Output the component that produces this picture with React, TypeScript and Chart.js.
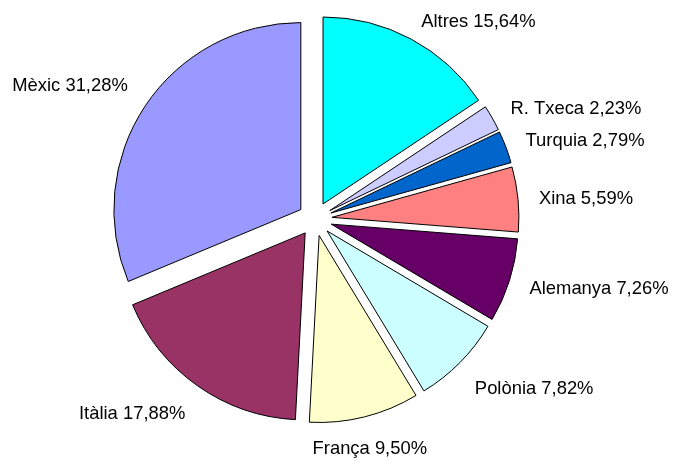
import { useEffect, useRef } from "react";
import { Chart, registerables } from "chart.js";

Chart.register(...registerables);

const categories = ["Altres", "R. Txeca", "Turquia", "Xina", "Alemanya", "Polònia", "França", "Itàlia", "Mèxic"];
const shares = [15.64, 2.23, 2.79, 5.59, 7.26, 7.82, 9.5, 17.88, 31.28];
const sliceColors = ["#00FFFF", "#CCCCFF", "#0066CC", "#FF8080", "#660066", "#CCFFFF", "#FFFFCC", "#993366", "#9999FF"];

const EXPLODE = 17;
const LABEL_GAP = 21;
const FONT_SIZE = 18.4;
const FONT = `${FONT_SIZE}px "Liberation Sans", Arial, sans-serif`;

const fmt = (v: number) => v.toFixed(2).replace(".", ",") + "%";

const explodePlugin = {
  id: "explodeSlices",
  afterDatasetUpdate(_chart: any, args: any) {
    for (const arc of args.meta.data) {
      const mid = (arc.startAngle + arc.endAngle) / 2;
      arc.x += Math.cos(mid) * EXPLODE;
      arc.y += Math.sin(mid) * EXPLODE;
    }
  },
};

const labelPlugin = {
  id: "sliceLabels",
  afterDatasetsDraw(chart: any) {
    const ctx = chart.ctx as CanvasRenderingContext2D;
    const meta = chart.getDatasetMeta(0);
    const halfH = 10;
    const capHalf = (FONT_SIZE * 0.716) / 2;
    ctx.save();
    ctx.font = FONT;
    ctx.fillStyle = "#000";
    ctx.textBaseline = "alphabetic";
    meta.data.forEach((arc: any, i: number) => {
      const mid = (arc.startAngle + arc.endAngle) / 2;
      const dx = Math.cos(mid);
      const dy = Math.sin(mid);
      const R = arc.outerRadius + LABEL_GAP;
      const px = arc.x + dx * R;
      const py = arc.y + dy * R;
      let align: CanvasTextAlign;
      if (Math.abs(dx) < 0.3) align = "center";
      else align = dx > 0 ? "left" : "right";
      let cy = Math.abs(dx) > 0.85 ? py : py + Math.sign(dy) * halfH;
      cy = Math.max(cy, 10 + halfH);
      ctx.textAlign = align;
      ctx.fillText(`${categories[i]} ${fmt(shares[i])}`, px, cy + capHalf);
    });
    ctx.restore();
  },
};

export default function App() {
  const ref = useRef<HTMLCanvasElement | null>(null);

  useEffect(() => {
    if (!ref.current) return;
    const chart = new Chart(ref.current, {
      type: "pie",
      data: {
        labels: categories,
        datasets: [
          {
            data: shares,
            backgroundColor: sliceColors,
            borderColor: "#000000",
            borderWidth: 1,
          },
        ],
      },
      options: {
        responsive: true,
        maintainAspectRatio: false,
        animation: false,
        events: [],
        radius: 187,
        layout: { padding: { left: 0, right: 44, top: 0, bottom: 23 } },
        plugins: {
          legend: { display: false },
          tooltip: { enabled: false },
        },
      } as any,
      plugins: [explodePlugin, labelPlugin],
    });
    return () => chart.destroy();
  }, []);

  return (
    <div style={{ position: "absolute", left: 0, top: 0, width: 674, height: 461, background: "#fff" }}>
      <canvas ref={ref} />
    </div>
  );
}
